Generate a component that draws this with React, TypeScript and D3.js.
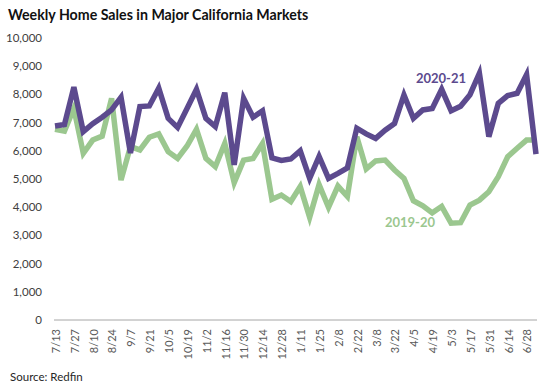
import React from "react";
import * as d3 from "d3";

const dates = [
  "7/13","7/20","7/27","8/3","8/10","8/17","8/24","8/31","9/7","9/14","9/21","9/28",
  "10/5","10/12","10/19","10/26","11/2","11/9","11/16","11/23","11/30","12/7","12/14","12/21",
  "12/28","1/4","1/11","1/18","1/25","2/1","2/8","2/15","2/22","3/1","3/8","3/15",
  "3/22","3/29","4/5","4/12","4/19","4/26","5/3","5/10","5/17","5/24","5/31","6/7",
  "6/14","6/21","6/28","7/5",
];

const sales2021 = [
  6880, 6930, 8260, 6680, 6960, 7190, 7450, 7900, 5920, 7570, 7590, 8220,
  7150, 6830, 7500, 8180, 7150, 6860, 8060, 5500, 7860, 7190, 7420, 5750,
  5660, 5710, 6000, 5020, 5800, 5020, 5200, 5390, 6800, 6600, 6440, 6730,
  6970, 7980, 7150, 7450, 7500, 8180, 7420, 7580, 7990, 8750, 6500, 7680,
  7960, 8040, 8700, 5880,
];

const sales1920 = [
  6760, 6700, 7500, 5910, 6380, 6520, 7860, 4960, 6150, 6030, 6480, 6600,
  5970, 5730, 6170, 6760, 5730, 5440, 6260, 4870, 5670, 5730, 6260, 4280,
  4430, 4200, 4730, 3640, 4800, 4000, 4750, 4380, 6500, 5360, 5640, 5670,
  5320, 5020, 4230, 4050, 3800, 4030, 3430, 3450, 4080, 4250, 4550, 5080,
  5790, 6090, 6380, 6380,
];

const yTicks = [0, 1000, 2000, 3000, 4000, 5000, 6000, 7000, 8000, 9000, 10000];

const title = "Weekly Home Sales in Major California Markets";
const source = "Source: Redfin";
const seriesLabels = ["2020-21", "2019-20"];

const W = 546;
const H = 390;
const FONT = "Lato, 'Open Sans', sans-serif";
const PURPLE = "#5c4a8e";
const GREEN = "#9bc78f";

export default function App() {
  const x = d3.scalePoint<string>().domain(dates).range([55, 536]);
  const y = d3.scaleLinear().domain([0, 10000]).range([320, 38]);
  const line = d3
    .line<number>()
    .x((_, i) => x(dates[i]) as number)
    .y((d) => y(d))
    .curve(d3.curveLinear);
  const fmt = d3.format(",");
  const labelDates = dates.filter((_, i) => i % 2 === 0);

  return (
    <svg
      width={W}
      height={H}
      style={{ position: "absolute", left: 0, top: 0, background: "#fff" }}
      fontFamily={FONT}
    >
      <text x={8} y={19.5} fontSize={14.2} fontWeight={700} fill="#111">
        {title}
      </text>
      {yTicks.map((t) => (
        <text
          key={t}
          x={42}
          y={y(t)}
          dy="0.35em"
          textAnchor="end"
          fontSize={11.5}
          fill="#404040"
        >
          {fmt(t)}
        </text>
      ))}
      <line x1={54} x2={537} y1={y(0)} y2={y(0)} stroke="#a6a6a6" strokeWidth={1} />
      {labelDates.map((d) => (
        <text
          key={d}
          transform={`translate(${(x(d) as number) + 1},${329}) rotate(-90)`}
          dy="0.35em"
          textAnchor="end"
          fontSize={11}
          fill="#595959"
        >
          {d}
        </text>
      ))}
      <path
        d={line(sales1920) || ""}
        fill="none"
        stroke={GREEN}
        strokeWidth={5.5}
        strokeLinejoin="miter"
        strokeMiterlimit={4}
      />
      <path
        d={line(sales2021) || ""}
        fill="none"
        stroke={PURPLE}
        strokeWidth={5.5}
        strokeLinejoin="miter"
        strokeMiterlimit={4}
      />
      <text x={441} y={83} textAnchor="middle" fontSize={13} fontWeight={700} fill={PURPLE}>
        {seriesLabels[0]}
      </text>
      <text x={410} y={227} textAnchor="middle" fontSize={13} fontWeight={700} fill={GREEN}>
        {seriesLabels[1]}
      </text>
      <text x={10} y={381} fontSize={11.5} fill="#262626">
        {source}
      </text>
    </svg>
  );
}
